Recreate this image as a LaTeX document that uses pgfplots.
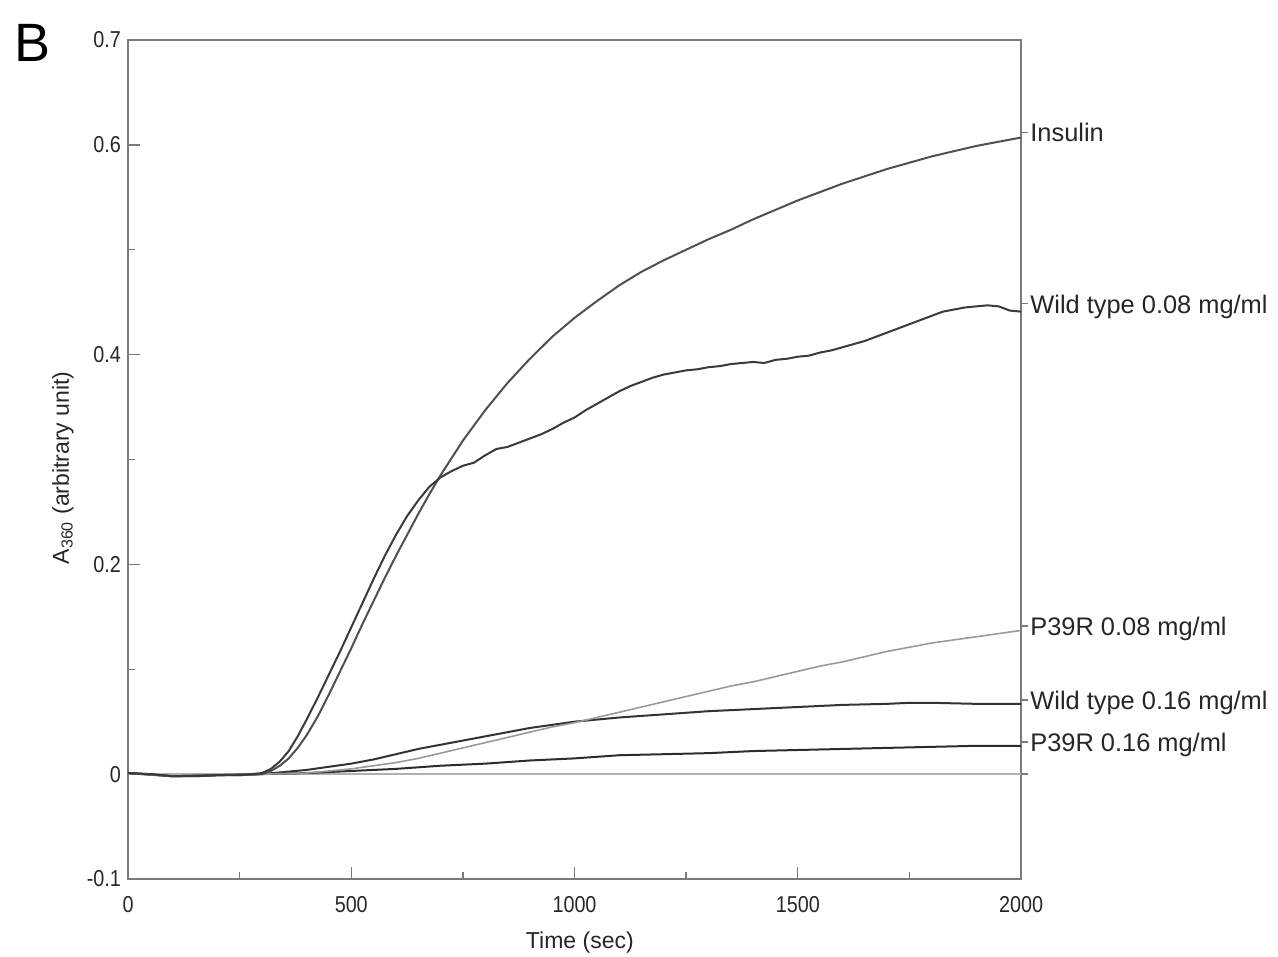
\documentclass[border=0pt]{standalone}
\usepackage{fontspec}
\setmainfont{Liberation Sans}
\newfontfamily\narrowsf{Liberation Sans}[FakeStretch=0.86]
\usepackage{pgfplots}
\pgfplotsset{compat=1.18}
\definecolor{axgray}{HTML}{7A7A7A}
\definecolor{cIns}{HTML}{505050}
\definecolor{cWTa}{HTML}{3A3A3A}
\definecolor{cWTb}{HTML}{333333}
\definecolor{cPa}{HTML}{9A9A9A}
\definecolor{cPb}{HTML}{2C2C2C}
\definecolor{cBase}{HTML}{B0B0B0}
\tikzset{
  rlab/.style={anchor=mid west, inner sep=0pt, xshift=4.5pt, yshift=-2pt, font=\fontsize{12.7}{14}\selectfont, text=black!85},
  conn/.style={axgray, line width=0.7pt},
}
\begin{document}
\begin{tikzpicture}
\path[use as bounding box] (-64pt,-39pt) rectangle (575pt,439.5pt);
\begin{axis}[
  at={(0,0)}, anchor=south west,
  width=446.5pt, height=419.5pt, scale only axis,
  xmin=0, xmax=2000, ymin=-0.1, ymax=0.7,
  axis line style={axgray, line width=0.9pt},
  xtick={0,500,1000,1500,2000},
  xticklabels={0,500,1000,1500,2000},
  minor xtick={250,750,1250,1750},
  ytick={-0.1,0,0.2,0.4,0.6,0.7},
  yticklabels={-0.1,0,0.2,0.4,0.6,0.7},
  minor ytick={0.1,0.3,0.5},
  tick align=inside,
  xtick pos=bottom, ytick pos=left,
  major tick length=6pt, minor tick length=3.5pt,
  tick style={axgray, line width=0.7pt},
  ticklabel style={font=\narrowsf\fontsize{11.5}{12}\selectfont, text=black!85},
  xticklabel style={yshift=-5pt},
  xlabel={Time (sec)},
  ylabel={A\textsubscript{360} (arbitrary unit)},
  xlabel style={at={(axis description cs:0.506,-0.0763)}, anchor=center, font=\fontsize{11.5}{12}\selectfont, text=black!85},
  ylabel style={at={(axis description cs:-0.0728,0.49)}, anchor=center, font=\fontsize{11.5}{12}\selectfont, text=black!85},
  clip=false,
  every axis plot/.append style={line join=round, mark=none},
]
% baseline
\addplot[cBase, line width=0.8pt] table {
0 0.000
2000 0.000
};
% P39R 0.16
\addplot[cPb, line width=1pt] table {
0 0.001
100 -0.002
200 -0.001
300 0.000
400 0.001
500 0.003
600 0.005
700 0.008
800 0.010
900 0.013
1000 0.015
1100 0.018
1200 0.019
1300 0.020
1400 0.022
1500 0.023
1600 0.024
1700 0.025
1800 0.026
1900 0.027
2000 0.027
};
% Wild type 0.16
\addplot[cWTb, line width=1pt] table {
0 0.001
100 -0.002
200 -0.001
300 0.000
350 0.002
400 0.004
450 0.007
500 0.010
550 0.014
600 0.019
650 0.024
700 0.028
750 0.032
800 0.036
850 0.040
900 0.044
950 0.047
1000 0.050
1100 0.054
1200 0.057
1300 0.060
1400 0.062
1500 0.064
1600 0.066
1700 0.067
1750 0.068
1800 0.068
1900 0.067
2000 0.067
};
% P39R 0.08
\addplot[cPa, line width=0.8pt] table {
0 0.001
100 -0.002
200 -0.001
300 0.000
400 0.001
450 0.003
500 0.005
550 0.008
600 0.011
650 0.015
700 0.020
750 0.025
800 0.030
850 0.035
900 0.040
950 0.045
1000 0.049
1050 0.054
1100 0.059
1150 0.064
1200 0.069
1250 0.074
1300 0.079
1350 0.084
1400 0.088
1450 0.093
1500 0.098
1550 0.103
1600 0.107
1650 0.112
1700 0.117
1750 0.121
1800 0.125
1850 0.128
1900 0.131
1950 0.134
2000 0.137
};
% Insulin
\addplot[cIns, line width=1pt] table {
0 0.001
50 0.000
100 -0.002
150 -0.002
200 -0.001
250 -0.001
300 0.000
320 0.003
340 0.008
360 0.015
380 0.025
400 0.037
425 0.055
450 0.076
475 0.098
500 0.120
525 0.143
550 0.165
575 0.187
600 0.208
625 0.228
650 0.248
675 0.267
700 0.285
750 0.318
800 0.347
850 0.373
900 0.396
950 0.417
1000 0.435
1050 0.451
1100 0.466
1150 0.479
1200 0.490
1250 0.500
1300 0.510
1350 0.519
1400 0.529
1450 0.538
1500 0.547
1600 0.563
1700 0.577
1800 0.589
1900 0.599
2000 0.607
};
% Wild type 0.08
\addplot[cWTa, line width=1pt] table {
0 0.001
50 0.000
100 -0.002
150 -0.002
200 -0.001
250 -0.001
300 0.001
320 0.005
340 0.012
360 0.022
380 0.036
400 0.052
425 0.073
450 0.095
475 0.117
500 0.140
525 0.163
550 0.186
575 0.208
600 0.228
625 0.246
650 0.261
675 0.274
700 0.283
725 0.289
750 0.294
775 0.297
800 0.304
825 0.310
850 0.312
875 0.316
900 0.320
925 0.324
950 0.329
975 0.335
1000 0.340
1025 0.347
1050 0.353
1075 0.359
1100 0.365
1125 0.370
1150 0.374
1175 0.378
1200 0.381
1225 0.383
1250 0.385
1275 0.386
1300 0.388
1325 0.389
1350 0.391
1375 0.392
1400 0.393
1425 0.392
1450 0.395
1475 0.396
1500 0.398
1525 0.399
1550 0.402
1575 0.404
1600 0.407
1625 0.410
1650 0.413
1675 0.417
1700 0.421
1725 0.425
1750 0.429
1775 0.433
1800 0.437
1825 0.441
1850 0.443
1875 0.445
1900 0.446
1925 0.447
1950 0.446
1975 0.442
2000 0.441
};
% connector ticks
\draw[conn] (axis cs:2000,0.6116) -- ([xshift=3.5pt]axis cs:2000,0.6116);
\draw[conn] (axis cs:2000,0.4485) -- ([xshift=3.5pt]axis cs:2000,0.4485);
\draw[conn] (axis cs:2000,0.1412) -- ([xshift=3.5pt]axis cs:2000,0.1412);
\draw[conn] (axis cs:2000,0.0706) -- ([xshift=3.5pt]axis cs:2000,0.0706);
\draw[conn] (axis cs:2000,0.0305) -- ([xshift=3.5pt]axis cs:2000,0.0305);
\draw[conn] (axis cs:2000,0) -- ([xshift=3.5pt]axis cs:2000,0);
% labels
\node[rlab] at (axis cs:2000,0.6116) {Insulin};
\node[rlab] at (axis cs:2000,0.4485) {Wild type 0.08 mg/ml};
\node[rlab] at (axis cs:2000,0.1412) {P39R 0.08 mg/ml};
\node[rlab] at (axis cs:2000,0.0706) {Wild type 0.16 mg/ml};
\node[rlab] at (axis cs:2000,0.0305) {P39R 0.16 mg/ml};
\end{axis}
\node[font=\fontsize{27}{29}\selectfont] at (-47.5pt,418pt) {B};
\end{tikzpicture}
\end{document}
